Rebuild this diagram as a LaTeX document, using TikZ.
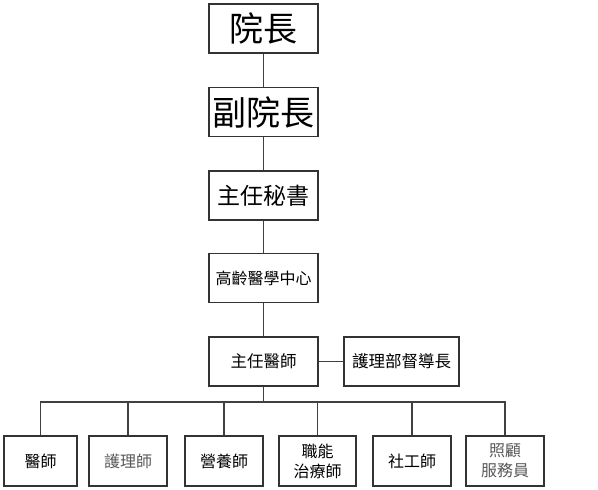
\documentclass[tikz,border=0pt]{standalone}
\usepackage{fontspec}
\newfontfamily\cjk{Noto Sans CJK TC}
\begin{document}
\begin{tikzpicture}[x=1pt,y=-1pt,
  box/.style={draw=black!80,line width=1.3pt,fill=white,inner sep=0pt,align=center,font=\cjk},
  top/.style={box,minimum width=109pt,minimum height=49pt},
  bot/.style={box,minimum width=78pt,minimum height=50pt,font=\cjk\fontsize{16}{20}\selectfont},
  ln/.style={draw=black!75,line width=1.3pt}]
\useasboundingbox (0,0) rectangle (598,490);
\node[top,font=\cjk\fontsize{34}{38}\selectfont] (yz) at (263.5,28.5) {院長};
\node[top,font=\cjk\fontsize{34}{38}\selectfont] (fyz) at (263.5,112) {副院長};
\node[top,font=\cjk\fontsize{23}{27}\selectfont] (ms) at (263.5,195.5) {主任秘書};
\node[top,font=\cjk\fontsize{16}{19}\selectfont] (gl) at (263.5,278) {高齡醫學中心};
\node[top,font=\cjk\fontsize{16.5}{19}\selectfont] (zr) at (263.5,361.5) {主任醫師};
\node[top,minimum width=115pt,font=\cjk\fontsize{16.5}{19}\selectfont] (hl) at (401.5,361.5) {護理部督導長};
\node[bot,minimum width=73pt] (b1) at (40.5,461) {醫師};
\node[bot,text=black!65] (b2) at (128,461) {護理師};
\node[bot] (b3) at (224,461) {營養師};
\node[bot,minimum width=77pt] (b4) at (317.5,461) {職能\\治療師};
\node[bot] (b5) at (412,461) {社工師};
\node[bot,text=black!65] (b6) at (505,461) {照顧\\服務員};
\coordinate (bus) at (263.5,402);
\draw[ln] (yz) -- (fyz);
\draw[ln] (fyz) -- (ms);
\draw[ln] (ms) -- (gl);
\draw[ln] (gl) -- (zr);
\draw[ln] (zr) -- (hl);
\draw[ln] (zr.south) -- (bus);
\foreach \b in {b1,b2,b3,b4,b5,b6} \draw[ln] (bus) -| (\b.north);
\end{tikzpicture}
\end{document}
